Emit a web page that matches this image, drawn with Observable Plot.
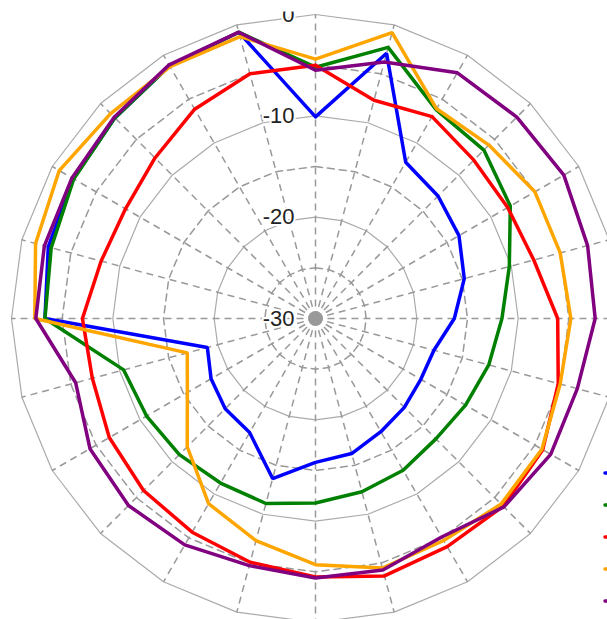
<!DOCTYPE html>
<html>
<head>
<meta charset="utf-8">
<script src="https://cdn.jsdelivr.net/npm/d3@7"></script>
<script src="https://cdn.jsdelivr.net/npm/@observablehq/plot@0.6"></script>
<style>
  html, body { margin: 0; padding: 0; background: white; overflow: hidden; }
  #wrap { position: relative; width: 607px; height: 619px; overflow: hidden; }
  #wrap > svg { clip-path: inset(11.5px 0 0 0); }
  #legend { position: absolute; left: 602px; top: 457px; }
  #legend .row { height: 32px; display: flex; align-items: center; }
</style>
</head>
<body>
<div id="wrap"><div id="legend"></div></div>
<script>
// angles (degrees, clockwise from top)
const angles = [0, 15, 30, 45, 60, 75, 90, 105, 120, 135, 150, 165, 180, 195, 210, 225, 240, 255, 270, 285, 300, 315, 330, 345];
const seriesNames = ["Series 1", "Series 2", "Series 3", "Series 4", "Series 5"];
const seriesColors = ["#0000ff", "#008000", "#ff0000", "#ffa500", "#800080"];
const series1 = [-10.1, -2.9, -12.2, -12.9, -13.65, -14.8, -16.3, -17.9, -18.0, -17.6, -17.1, -16.2, -15.8, -13.65, -17.0, -17.4, -18.1, -18.95, -3.3, -2.7, -2.4, -2.0, -1.2, -0.75];
const series2 = [-5.2, -2.3, -6.2, -6.5, -7.8, -10.2, -11.6, -12.3, -12.9, -13.2, -12.7, -12.3, -11.8, -11.1, -11.25, -11.0, -10.75, -10.4, -3.3, -3.0, -2.45, -2.0, -1.2, -0.75];
const series3 = [-5.0, -7.7, -7.0, -7.9, -8.1, -7.7, -6.1, -5.2, -4.1, -3.8, -4.0, -3.7, -4.5, -5.1, -5.65, -6.0, -6.5, -7.2, -7.0, -8.1, -8.35, -7.6, -6.15, -5.0];
const series4 = [-4.4, -0.8, -6.1, -5.8, -5.0, -5.0, -4.8, -5.0, -4.2, -4.1, -4.7, -4.5, -5.7, -7.3, -8.9, -12.1, -15.4, -16.9, -2.3, -1.4, -0.8, -1.4, -1.3, -1.2];
const series5 = [-5.5, -3.8, -2.0, -1.9, -1.7, -2.2, -2.4, -3.25, -3.2, -3.7, -5.1, -4.3, -4.4, -4.75, -4.2, -3.9, -4.3, -5.5, -2.4, -2.3, -2.25, -1.9, -1.1, -0.75];
const solidRings = [0, -10, -20];
const dashedRings = [-5, -15, -25];
const tickValues = [0, -10, -20, -30];
const tickLabels = ["0", "-10", "-20", "-30"];
const rMin = -30;

const allSeries = [series1, series2, series3, series4, series5];
const rad = (a) => a * Math.PI / 180;
const px = (a, v) => (v - rMin) * Math.sin(rad(a));
const py = (a, v) => (v - rMin) * Math.cos(rad(a));

const closed = angles.concat([angles[0]]);
const ringRows = (levels) => levels.flatMap(l => closed.map(a => ({ring: l, x: px(a, l), y: py(a, l)})));
const data = allSeries.flatMap((vals, i) =>
  closed.map((a, j) => {
    const v = vals[j % angles.length];
    return {series: seriesNames[i], x: px(a, v), y: py(a, v)};
  })
);
const spokes = angles.map(a => ({x1: 0, y1: 0, x2: px(a, 0), y2: py(a, 0)}));
const ticks = tickValues.map((v, i) => ({x: 0, y: v - rMin, label: tickLabels[i]}));

const chart = Plot.plot({
  width: 607,
  height: 619,
  margin: 0,
  x: {domain: [-30, 30], range: [11, 619], axis: null},
  y: {domain: [-30, 30], range: [622, 14], axis: null},
  color: {domain: seriesNames, range: seriesColors},
  style: {background: "white", overflow: "hidden"},
  marks: [
    Plot.line(ringRows(solidRings), {x: "x", y: "y", z: "ring", stroke: "#aaa", strokeWidth: 1.2}),
    Plot.line(ringRows(dashedRings), {x: "x", y: "y", z: "ring", stroke: "#999", strokeWidth: 1.5, strokeDasharray: "7,5"}),
    Plot.link(spokes, {x1: "x1", y1: "y1", x2: "x2", y2: "y2", stroke: "#999", strokeWidth: 1.5, strokeDasharray: "7,5"}),
    Plot.dot([{x: 0, y: 0}], {x: "x", y: "y", r: 7.5, fill: "#999", stroke: "none"}),
    Plot.line(data, {x: "x", y: "y", z: "series", stroke: "series", strokeWidth: 3.5, strokeLinejoin: "miter", curve: "linear"}),
    Plot.text(ticks, {x: "x", y: "y", text: "label", textAnchor: "end", dx: -21, fontSize: 22, fill: "#222", fontFamily: "Liberation Sans, Arial, sans-serif", stroke: "white", strokeWidth: 4, paintOrder: "stroke"})
  ]
});
const wrap = document.getElementById("wrap");
wrap.insertBefore(chart, wrap.firstChild);

const legend = document.getElementById("legend");
seriesNames.forEach((name, i) => {
  const row = document.createElement("div");
  row.className = "row";
  row.title = name;
  row.innerHTML = `<svg width="24" height="8" aria-label="${name}"><line x1="3" y1="4" x2="21" y2="4" stroke="${seriesColors[i]}" stroke-width="3.5" stroke-linecap="round"/></svg>`;
  legend.appendChild(row);
});
</script>
</body>
</html>
